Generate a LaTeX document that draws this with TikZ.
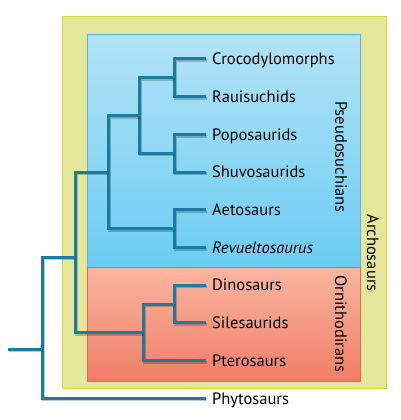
\documentclass[tikz,border=0pt]{standalone}
\usepackage{fontspec}
\setmainfont{PT Sans}
\usepackage{tikz}
\usetikzlibrary{positioning,calc}
\definecolor{treeblue}{HTML}{1B7BA3}
\definecolor{archfill}{HTML}{E5E89A}
\definecolor{archline}{HTML}{D6DE2E}
\definecolor{pseudotop}{HTML}{B3E3F6}
\definecolor{pseudobot}{HTML}{6BCDF3}
\definecolor{pseudoline}{HTML}{5BB5E2}
\definecolor{ornitop}{HTML}{F8B6A0}
\definecolor{ornibot}{HTML}{F17E67}
\definecolor{orniline}{HTML}{EC6550}
\tikzset{
  leaf/.style={anchor=west, inner xsep=6pt, inner ysep=0pt, text height=11.5pt, text depth=0pt, font=\fontsize{16.5}{18}\selectfont},
  cladelabel/.style={rotate=-90, inner sep=0pt, font=\fontsize{16.5}{18}\selectfont},
  branch/.style={draw=treeblue, line width=3pt, line join=miter,
    preaction={draw=black, opacity=.22, line width=3pt, transform canvas={shift={(1.2pt,-1.6pt)}}}},
  groupbox/.style={line width=1pt}
}
\begin{document}
\begin{tikzpicture}[x=1pt, y=-1pt]
\useasboundingbox (0,0) rectangle (400,420);
% clade boxes
\draw[groupbox, draw=archline, fill=archfill] (62,17) rectangle (386,388);
\draw[groupbox, draw=pseudoline, top color=pseudotop, bottom color=pseudobot] (87,34.5) rectangle (360,267);
\draw[groupbox, draw=orniline, top color=ornitop, bottom color=ornibot] (87,267) rectangle (360,381);
% taxa
\node[leaf] (croc) at (206,59) {Crocodylomorphs};
\node[leaf] (raui) at (206,96.7) {Rauisuchids};
\node[leaf] (popo) at (206,134.4) {Poposaurids};
\node[leaf] (shuvo) at (206,172.1) {Shuvosaurids};
\node[leaf] (aeto) at (206,209.8) {Aetosaurs};
\node[leaf] (revu) at (206,247.5) {\itshape Revueltosaurus};
\node[leaf] (dino) at (206,285.2) {Dinosaurs};
\node[leaf] (sile) at (206,322.9) {Silesaurids};
\node[leaf] (ptero) at (206,360.6) {Pterosaurs};
\node[leaf] (phyto) at (206,398.3) {Phytosaurs};
% clade names
\node[cladelabel] (pseudolbl) at (341,157) {Pseudosuchians};
\node[cladelabel] (ornilbl) at (341,324) {Ornithodirans};
\node[cladelabel] (archlbl) at (373,253) {Archosaurs};
% branching points
\coordinate (cr) at (174,77.85);
\coordinate (ps) at (174,153.25);
\coordinate (crps) at (139,115.5);
\coordinate (ar) at (174,228.65);
\coordinate (pseudo) at (108,172);
\coordinate (ds) at (174,304);
\coordinate (orn) at (143,332.5);
\coordinate (arch) at (75,257);
\coordinate (root) at (42,349);
\coordinate (stub) at (8,349);
% tree
\draw[branch] (croc.west) -| (cr) |- (raui.west);
\draw[branch] (popo.west) -| (ps) |- (shuvo.west);
\draw[branch] (cr) -| (crps) |- (ps);
\draw[branch] (aeto.west) -| (ar) |- (revu.west);
\draw[branch] (crps) -| (pseudo) |- (ar);
\draw[branch] (dino.west) -| (ds) |- (sile.west);
\draw[branch] (ds) -| (orn) |- (ptero.west);
\draw[branch] (pseudo) -| (arch) |- (orn);
\draw[branch] (arch) -| (root) |- (phyto.west);
\draw[branch] (stub) -- (root);
\end{tikzpicture}
\end{document}
